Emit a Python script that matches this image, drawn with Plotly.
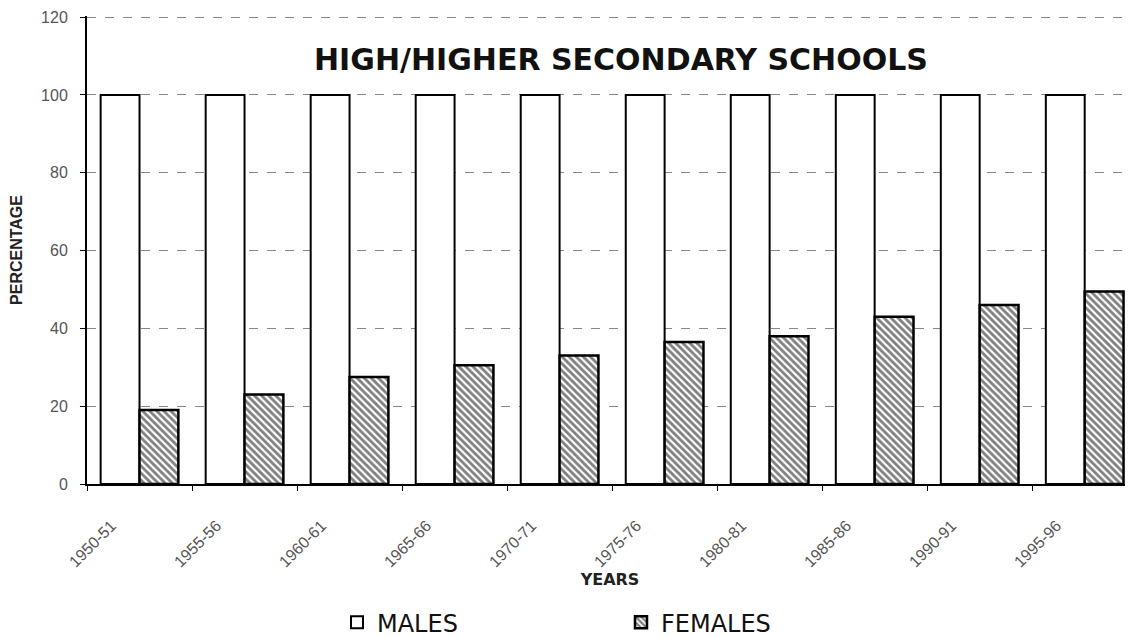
import plotly.graph_objects as go

years = ["1950-51", "1955-56", "1960-61", "1965-66", "1970-71",
         "1975-76", "1980-81", "1985-86", "1990-91", "1995-96"]
males = [100, 100, 100, 100, 100, 100, 100, 100, 100, 100]
females = [19, 23, 27.5, 30.5, 33, 36.5, 38, 43, 46, 49.5]
y_ticks = [0, 20, 40, 60, 80, 100, 120]

fig = go.Figure()
fig.add_trace(go.Bar(
    x=years, y=males, name="MALES",
    marker=dict(color="white", line=dict(color="black", width=2)),
))
fig.add_trace(go.Bar(
    x=years, y=females, name="FEMALES",
    marker=dict(color="white", line=dict(color="black", width=2.5),
                pattern=dict(shape="\\", fgcolor="black", bgcolor="white",
                             size=5, solidity=0.55)),
))

fig.update_layout(
    width=1133, height=637,
    paper_bgcolor="white", plot_bgcolor="white",
    margin=dict(l=79, r=8, t=8, b=161, autoexpand=False),
    barmode="group", bargap=0.26, bargroupgap=0,
    font=dict(family="Liberation Sans, Arial, sans-serif", color="#222"),
    showlegend=True,
    legend=dict(orientation="h", x=0.239, y=-0.248, xanchor="left", yanchor="top",
                font=dict(size=24, color="#111", family="DejaVu Sans, sans-serif"),
                entrywidth=239, entrywidthmode="pixels",
                itemwidth=30, bgcolor="rgba(0,0,0,0)"),
    xaxis=dict(
        range=[-0.5, 9.46], automargin=False,
        tickangle=-45, tickfont=dict(size=16, color="#555"),
        ticks="outside", ticklen=5, tickcolor="black", tickson="boundaries",
        ticklabelshift=-28, ticklabelstandoff=24,
        showline=True, linecolor="black", linewidth=2,
        title=dict(text="<b>YEARS</b>",
                   font=dict(size=16, color="#222", family="DejaVu Sans, sans-serif"),
                   standoff=1),
    ),
    yaxis=dict(
        range=[0, 120.3], tickvals=y_ticks, automargin=False,
        tickfont=dict(size=16, color="#555"),
        ticks="outside", ticklen=5, tickcolor="black", ticklabelstandoff=9,
        showline=True, linecolor="black", linewidth=2,
        showgrid=True, gridcolor="#888", gridwidth=1, griddash="dash",
        zeroline=False,
        title=dict(text="<b>PERCENTAGE</b>", font=dict(size=16, color="#222"), standoff=17),
    ),
    annotations=[dict(
        text="<b>HIGH/HIGHER SECONDARY SCHOOLS</b>",
        xref="paper", yref="paper", x=0.5105, y=0.908,
        xanchor="center", yanchor="middle", showarrow=False,
        font=dict(size=30, color="#111", family="DejaVu Sans, sans-serif"),
    )],
)

fig.write_html("out.html")
